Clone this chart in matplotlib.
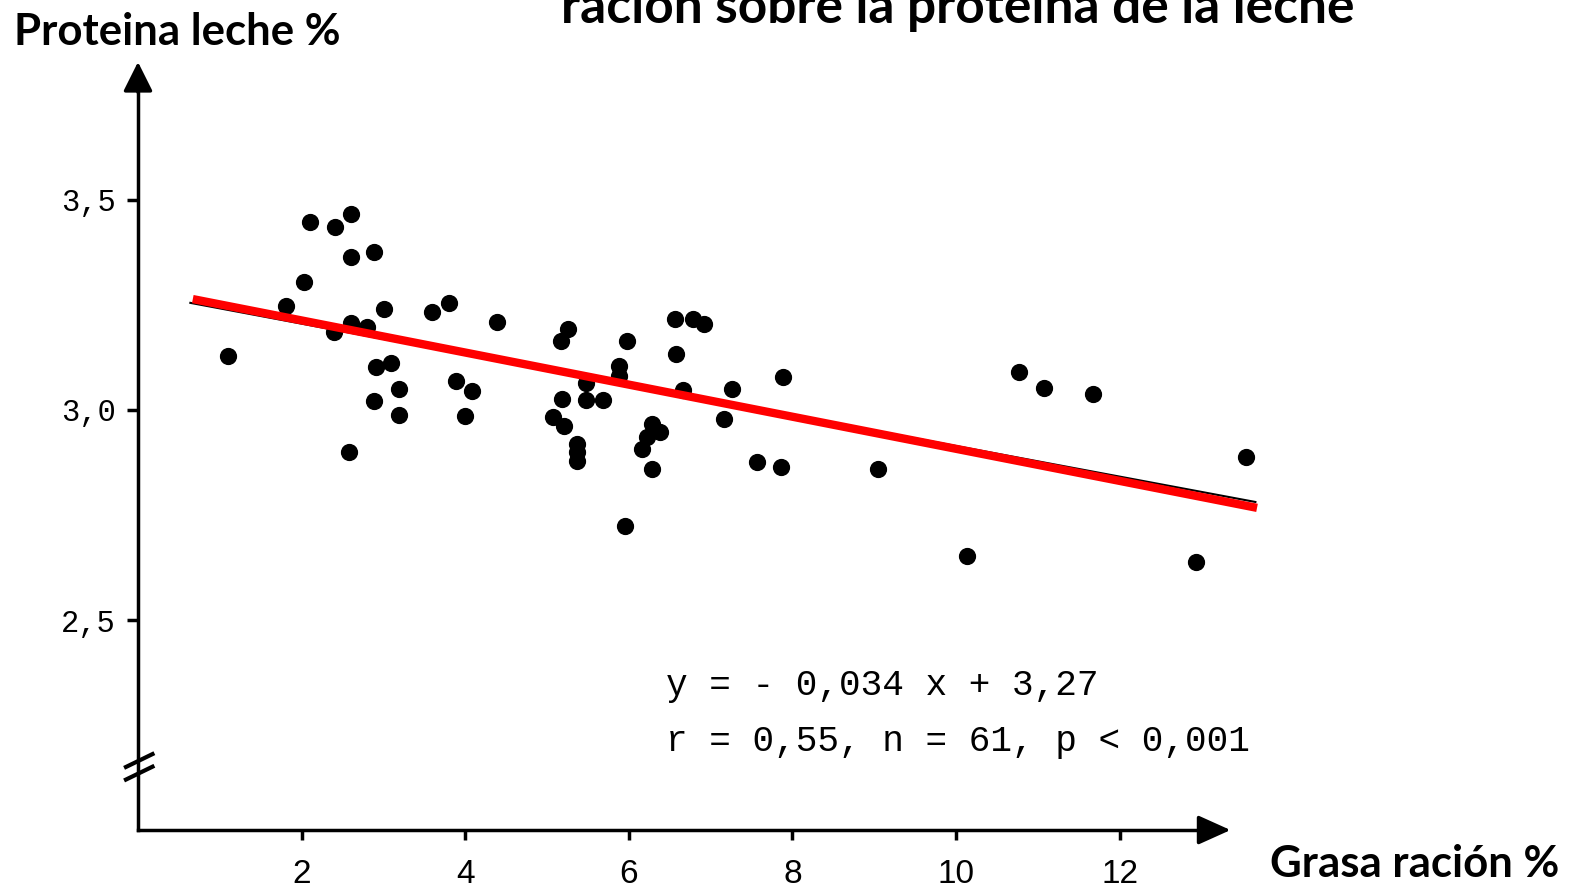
import matplotlib.pyplot as plt

# Grasa en la ración (%) y proteína de la leche (%) - 61 puntos
grasa = [1.10, 1.81, 2.03, 2.10, 2.41, 2.60, 2.60, 2.89, 2.60, 2.40,
         2.80, 3.01, 2.91, 3.09, 2.89, 3.19, 3.19, 2.58, 3.59, 3.80,
         3.89, 4.08, 4.00, 4.39, 5.17, 5.26, 5.98, 5.88, 5.88, 5.48,
         5.18, 5.48, 5.68, 5.07, 5.21, 5.37, 5.37, 5.37, 6.56, 6.78,
         6.92, 6.58, 7.89, 6.66, 7.26, 7.16, 6.28, 6.38, 6.22, 6.16,
         6.28, 7.57, 7.86, 9.05, 5.95, 10.77, 11.08, 11.67, 13.55, 10.13,
         12.93]
proteina = [3.129, 3.248, 3.305, 3.448, 3.436, 3.467, 3.364, 3.376, 3.207, 3.186,
            3.198, 3.240, 3.102, 3.112, 3.021, 3.050, 2.988, 2.900, 3.233, 3.255,
            3.069, 3.045, 2.986, 3.210, 3.164, 3.193, 3.164, 3.105, 3.081, 3.064,
            3.026, 3.024, 3.024, 2.983, 2.962, 2.919, 2.900, 2.879, 3.217, 3.217,
            3.205, 3.133, 3.079, 3.048, 3.050, 2.979, 2.967, 2.948, 2.936, 2.907,
            2.860, 2.876, 2.864, 2.860, 2.724, 3.090, 3.052, 3.038, 2.888, 2.652,
            2.638]

# recta original (negra) y la repintada en rojo
recta_x = [0.64, 13.66]
recta_y = [3.255, 2.781]
roja_x = [0.67, 13.68]
roja_y = [3.264, 2.767]

xticks = [2, 4, 6, 8, 10, 12]
yticks = [2.5, 3.0, 3.5]
ytick_labels = ["2,5", "3,0", "3,5"]

fig = plt.figure(figsize=(15.7, 8.96), dpi=100)
ax = fig.add_axes([0, 0, 1, 1])
ax.set_xlim(-1.687, 17.506)
ax.set_ylim(1.843, 3.976)

# ejes con flecha
for s in ["top", "right"]:
    ax.spines[s].set_visible(False)
ax.spines["left"].set_position(("data", 0))
ax.spines["bottom"].set_position(("data", 2.0))
ax.spines["left"].set_bounds(2.0, 3.80)
ax.spines["bottom"].set_bounds(0, 13.1)
ax.spines["left"].set_linewidth(2.5)
ax.spines["bottom"].set_linewidth(2.5)
ax.annotate("", xy=(0, 3.835), xytext=(0, 3.75),
            arrowprops=dict(arrowstyle="-|>,head_length=0.9,head_width=0.45",
                            color="black", lw=2.5, mutation_scale=20))
ax.annotate("", xy=(13.39, 2.0), xytext=(13.0, 2.0),
            arrowprops=dict(arrowstyle="-|>,head_length=1.0,head_width=0.45",
                            color="black", lw=2.5, mutation_scale=20))

# corte del eje y
for dy in [0.0, -0.03]:
    ax.plot([-0.17, 0.20], [2.148 + dy, 2.183 + dy], color="black", lw=3,
            solid_capstyle="butt")

ax.set_xticks(xticks)
ax.set_xticklabels([str(t) for t in xticks], fontfamily="Liberation Sans",
                   fontsize=24)
ax.set_yticks(yticks)
ax.set_yticklabels(ytick_labels, fontfamily="Liberation Mono", fontsize=22)
ax.tick_params(axis="x", direction="out", length=7, width=2.5, pad=14)
ax.tick_params(axis="y", direction="out", length=8, width=2.5, pad=8)

# puntos y recta
ax.scatter(grasa, proteina, s=130, color="black", zorder=3)
ax.plot(recta_x, recta_y, color="black", lw=1.5, zorder=4)
ax.plot(roja_x, roja_y, color="#ff0000", lw=6, zorder=5, solid_capstyle="butt")

# ecuación
ax.text(6.45, 2.345, "y = - 0,034 x + 3,27", fontfamily="Liberation Mono",
        fontsize=26, va="center")
ax.text(6.45, 2.21, "r = 0,55, n = 61, p < 0,001", fontfamily="Liberation Mono",
        fontsize=26, va="center")

# títulos
fig.text(958 / 1570, 1 - 23 / 896, "ración sobre la proteína de la leche",
         fontfamily="Lato", fontweight="bold", fontsize=37, ha="center",
         va="baseline")
fig.text(14 / 1570, 1 - 45 / 896, "Proteina leche %", fontfamily="Lato",
         fontweight="bold", fontsize=31.5, ha="left", va="baseline")
fig.text(1270 / 1570, 1 - 877 / 896, "Grasa ración %", fontfamily="Lato",
         fontweight="bold", fontsize=31.5, ha="left", va="baseline")

plt.savefig("out.png", dpi=100)
